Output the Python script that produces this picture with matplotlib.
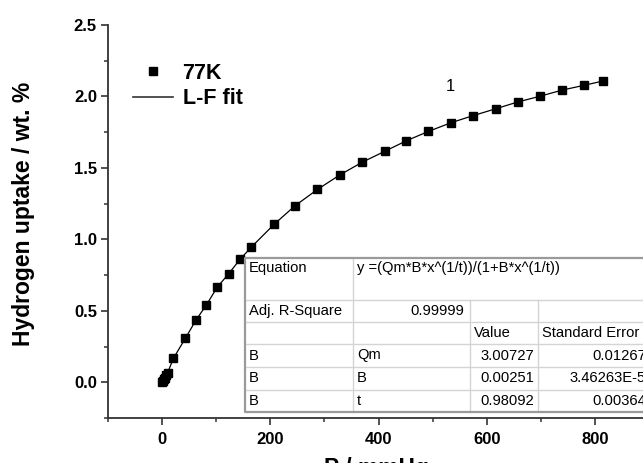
import matplotlib
matplotlib.use("Agg")
import matplotlib.pyplot as plt
from matplotlib.lines import Line2D
from matplotlib.patches import Rectangle
from matplotlib.ticker import MultipleLocator, FuncFormatter

# ---- data ----
pressure = [0.5, 1.5, 3, 5, 7.5, 10, 21, 43, 63, 82, 102, 123, 144, 165, 207, 245,
            287, 329, 370, 412, 451, 492, 534, 574, 617, 657, 698, 740, 780, 815]
uptake = [0.003, 0.010, 0.020, 0.033, 0.048, 0.065, 0.168, 0.308, 0.437, 0.542, 0.666,
          0.759, 0.860, 0.946, 1.105, 1.233, 1.349, 1.452, 1.540, 1.617, 1.689, 1.755,
          1.816, 1.865, 1.914, 1.961, 2.001, 2.045, 2.078, 2.108]

series_label = "77K"
fit_label = "L-F fit"
x_ticks = [0, 200, 400, 600, 800]
y_ticks = [0.0, 0.5, 1.0, 1.5, 2.0, 2.5]

table_rows = [
    ["Equation", "y =(Qm*B*x^(1/t))/(1+B*x^(1/t))", "", ""],
    ["Adj. R-Square", "0.99999", "", ""],
    ["", "", "Value", "Standard Error"],
    ["B", "Qm", "3.00727", "0.01267"],
    ["B", "B", "0.00251", "3.46263E-5"],
    ["B", "t", "0.98092", "0.00364"],
]

W, H = 643, 463
plt.rcParams['font.family'] = ['Liberation Sans', 'DejaVu Sans']
fig = plt.figure(figsize=(W / 100, H / 100), dpi=100)

def fx(x):
    return x / W

def fy(y):
    return 1 - y / H

ax = fig.add_axes([fx(108), fy(418), fx(649) - fx(108), fy(25) - fy(418)])
ax.plot(pressure, uptake, color='black', lw=0.9, marker='s', ms=5.2,
        mfc='black', mec='black', zorder=3)
ax.set_xlim(-100, 900)
ax.set_ylim(-0.25, 2.5)
ax.set_xticks(x_ticks)
ax.set_yticks(y_ticks)
ax.xaxis.set_minor_locator(MultipleLocator(100))
ax.yaxis.set_minor_locator(MultipleLocator(0.25))
for s in ['top', 'right']:
    ax.spines[s].set_visible(False)
for s in ['left', 'bottom']:
    ax.spines[s].set_color('#333333')
    ax.spines[s].set_linewidth(1.3)
ax.tick_params(which='major', direction='out', length=5, width=1.2, color='#333333',
               labelsize=12)
ax.tick_params(which='minor', direction='out', length=3, width=1.1, color='#333333')
ax.xaxis.set_major_formatter(FuncFormatter(lambda v, p: f"{v:.0f}"))
ax.yaxis.set_major_formatter(FuncFormatter(lambda v, p: f"{v:.1f}"))
for lab in ax.get_xticklabels() + ax.get_yticklabels():
    lab.set_fontweight('bold')
ax.tick_params(axis='x', pad=5)
ax.tick_params(axis='y', pad=3)

fig.text(fx(24), fy(214), "Hydrogen uptake / wt. %", fontsize=16.5, fontweight='bold',
         rotation=90, ha='center', va='center')
fig.text(fx(376), fy(457), "P / mmHg", fontsize=16.5, fontweight='bold',
         ha='center', va='top')

ax.text(532, 2.07, "1", fontsize=12, ha='center', va='center')

handles = [Line2D([], [], color='black', marker='s', ls='none', ms=5.2),
           Line2D([], [], color='#333333', lw=1.2)]
ax.legend(handles, [series_label, fit_label], loc='upper left',
          bbox_to_anchor=(fx(133), fy(63)), bbox_transform=fig.transFigure,
          frameon=False, borderpad=0, borderaxespad=0, handlelength=1.85,
          handletextpad=0.45, labelspacing=0.2,
          prop={'family': 'Liberation Sans', 'weight': 'bold', 'size': 15.5})

# ---- table ----
cols = [245, 353, 470, 538, 650]
rows = [258, 300, 322, 344, 367, 390, 412]
tr = fig.transFigure
fig.patches.append(Rectangle((fx(245), fy(412)), fx(660) - fx(245), fy(258) - fy(412),
                             transform=tr, facecolor='white', edgecolor='none', zorder=2))
inner = '#d4d4d4'
for r in rows[1:-1]:
    fig.lines.append(Line2D([fx(245), fx(660)], [fy(r), fy(r)], transform=tr,
                            color=inner, lw=1.0, zorder=3))
fig.lines.append(Line2D([fx(353), fx(353)], [fy(258), fy(412)], transform=tr,
                        color=inner, lw=1.0, zorder=3))
for c in cols[2:]:
    fig.lines.append(Line2D([fx(c), fx(c)], [fy(300), fy(412)], transform=tr,
                            color=inner, lw=1.0, zorder=3))
outer = '#9a9a9a'
fig.lines.append(Line2D([fx(660), fx(245), fx(245), fx(660)],
                        [fy(258), fy(258), fy(412), fy(412)], transform=tr,
                        color=outer, lw=1.6, zorder=4))

tfs = 10.6
centers = [268, 311, 333, 355.5, 378.5, 401]
for i, row in enumerate(table_rows):
    y = fy(centers[i])
    c0, c1, c2, c3 = row
    if c0:
        fig.text(fx(249), y, c0, fontsize=tfs, ha='left', va='center', zorder=5)
    if i == 1:
        fig.text(fx(464), y, c1, fontsize=tfs, ha='right', va='center', zorder=5)
    elif c1:
        fig.text(fx(357), y, c1, fontsize=tfs, ha='left', va='center', zorder=5)
    if i == 2:
        fig.text(fx(474), y, c2, fontsize=tfs, ha='left', va='center', zorder=5)
        fig.text(fx(542), y, c3, fontsize=tfs, ha='left', va='center', zorder=5)
    elif i > 2:
        fig.text(fx(534), y, c2, fontsize=tfs, ha='right', va='center', zorder=5)
        fig.text(fx(646), y, c3, fontsize=tfs, ha='right', va='center', zorder=5)

fig.savefig("out.png", dpi=100)
